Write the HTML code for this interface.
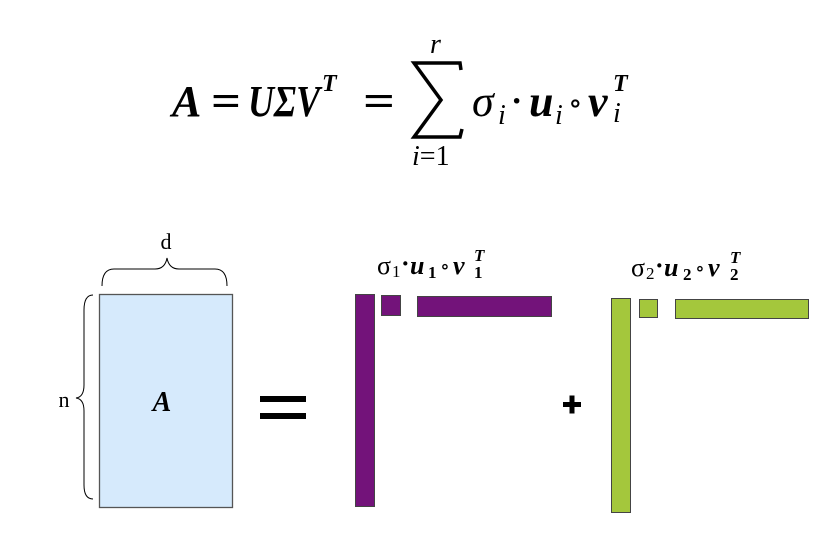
<!DOCTYPE html>
<html><head><meta charset="utf-8"><style>
html,body{margin:0;padding:0;background:#fff;}
svg{display:block;}
text{font-family:"Liberation Serif","DejaVu Serif",serif;}
.b{font-size:26px;}
.s{font-size:17px;}
</style></head><body>
<svg width="840" height="548" viewBox="0 0 840 548" xmlns="http://www.w3.org/2000/svg">
<!-- formula -->
<g font-size="44" fill="#000">
<text x="172" y="116" font-weight="bold" font-style="italic">A</text>
<text x="211" y="116" font-weight="bold" textLength="30" lengthAdjust="spacingAndGlyphs">=</text>
<text x="248" y="116" font-weight="bold" font-style="italic" textLength="72" lengthAdjust="spacingAndGlyphs">UΣV</text>
<text x="322" y="91" font-size="24" font-weight="bold" font-style="italic">T</text>
<text x="363" y="116" font-weight="bold" textLength="32" lengthAdjust="spacingAndGlyphs">=</text>
<text x="472" y="116" font-style="italic">σ</text>
<text x="498" y="124" font-size="28" font-style="italic">i</text>
<text x="511" y="112" font-size="34" font-weight="bold">·</text>
<text x="529" y="116" font-weight="bold" font-style="italic">u</text>
<text x="555" y="124" font-size="28" font-style="italic">i</text>
<text x="568" y="113" font-size="30">∘</text>
<text x="588" y="116" font-weight="bold" font-style="italic">v</text>
<text x="613" y="91" font-size="24" font-weight="bold" font-style="italic">T</text>
<text x="613" y="122" font-size="28" font-style="italic">i</text>
</g>
<path d="M461 70 L460 63 L414 63 L441 100 L414 137 L460 137 L462 129" fill="none" stroke="#000" stroke-width="3.5"/>
<text x="430" y="53" font-size="28" font-style="italic">r</text>
<text x="412" y="165" font-size="28"><tspan font-style="italic">i</tspan>=1</text>

<!-- matrix A -->
<rect x="99.5" y="294.5" width="133" height="213" fill="#d6eafc" stroke="#555" stroke-width="1.3"/>
<text x="162" y="411" font-size="28" font-weight="bold" font-style="italic" text-anchor="middle">A</text>
<path d="M102 286 Q102 269 114 269 L155 269 Q165 269 167 258 Q169 269 179 269 L215 269 Q227 269 227 286" fill="none" stroke="#000" stroke-width="1"/>
<text x="166" y="249" font-size="22" text-anchor="middle">d</text>
<path d="M93 295 Q84 295 84 310 L84 385 Q84 397 76 398 Q84 399 84 411 L84 485 Q84 499 93 499" fill="none" stroke="#000" stroke-width="1"/>
<text x="64" y="407" font-size="22" text-anchor="middle">n</text>
<rect x="260" y="396" width="46" height="6" fill="#000"/>
<rect x="260" y="413" width="46" height="6" fill="#000"/>
<rect x="563" y="402" width="18" height="5" fill="#000"/>
<rect x="569.5" y="395.5" width="5" height="18" fill="#000"/>

<!-- term 1 -->
<text class="b" x="377" y="274">σ</text>
<text class="s" x="392" y="277">1</text>
<text class="b" x="401" y="272" font-weight="bold">·</text>
<text class="b" x="410" y="274" font-weight="bold" font-style="italic">u</text>
<text class="s" x="428" y="278" font-weight="bold">1</text>
<text class="b" x="440" y="273" style="font-size:20px">∘</text>
<text class="b" x="453" y="274" font-weight="bold" font-style="italic">v</text>
<text class="s" x="474" y="261" font-weight="bold" font-style="italic">T</text>
<text class="s" x="474" y="278" font-weight="bold">1</text>
<g fill="#73137a" stroke="#444" stroke-width="1">
<rect x="355.5" y="294.5" width="19" height="212"/>
<rect x="381.5" y="295.5" width="19" height="20"/>
<rect x="417.5" y="296.5" width="134" height="20"/>
</g>
<!-- term 2 -->
<text class="b" x="631" y="276">σ</text>
<text class="s" x="646" y="279">2</text>
<text class="b" x="655" y="274" font-weight="bold">·</text>
<text class="b" x="664" y="276" font-weight="bold" font-style="italic">u</text>
<text class="s" x="683" y="280" font-weight="bold">2</text>
<text class="b" x="695" y="275" style="font-size:20px">∘</text>
<text class="b" x="708" y="276" font-weight="bold" font-style="italic">v</text>
<text class="s" x="730" y="263" font-weight="bold" font-style="italic">T</text>
<text class="s" x="730" y="280" font-weight="bold">2</text>
<g fill="#a4c73c" stroke="#444" stroke-width="1">
<rect x="611.5" y="298.5" width="19" height="214"/>
<rect x="639.5" y="299.5" width="18" height="18"/>
<rect x="675.5" y="299.5" width="133" height="19"/>
</g>
</svg>
</body></html>
